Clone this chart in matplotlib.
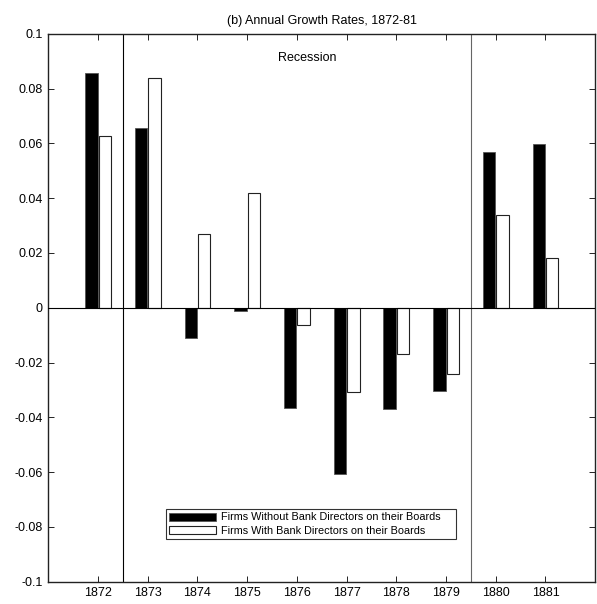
import matplotlib
matplotlib.use("Agg")
import matplotlib.pyplot as plt
import numpy as np

years = [1872, 1873, 1874, 1875, 1876, 1877, 1878, 1879, 1880, 1881]
without_bank = [0.0858, 0.0656, -0.0111, -0.0012, -0.0366, -0.0607, -0.0369, -0.0305, 0.0568, 0.0598]
with_bank = [0.0627, 0.0838, 0.0268, 0.0420, -0.0064, -0.0309, -0.0168, -0.0241, 0.0338, 0.0181]
yticks = [-0.1, -0.08, -0.06, -0.04, -0.02, 0, 0.02, 0.04, 0.06, 0.08, 0.1]
ytick_labels = ["-0.1", "-0.08", "-0.06", "-0.04", "-0.02", "0", "0.02", "0.04", "0.06", "0.08", "0.1"]
label_without = "Firms Without Bank Directors on their Boards"
label_with = "Firms With Bank Directors on their Boards"
title = "(b) Annual Growth Rates, 1872-81"

plt.rcParams['font.family'] = ['Liberation Sans', 'DejaVu Sans']

fig = plt.figure(figsize=(5.97, 6.04), dpi=100)
ax = fig.add_axes([0.081, 0.037, 0.916, 0.907])

x = np.array(years, dtype=float)
w = 0.25
ax.bar(x - 0.135, without_bank, width=w, color='black', edgecolor='#555555', linewidth=0.6,
       label=label_without, zorder=2)
ax.bar(x + 0.135, with_bank, width=w, color='white', edgecolor='#222222', linewidth=0.8,
       label=label_with, zorder=2)

ax.axhline(0, color='black', linewidth=0.8, zorder=3)
ax.axvline(1872.5, color='black', linewidth=0.8, zorder=1)
ax.axvline(1879.5, color='#666666', linewidth=0.8, zorder=1)

ax.set_xlim(1871, 1882)
ax.set_ylim(-0.1, 0.1)
ax.set_xticks(years)
ax.set_xticklabels([str(y) for y in years], fontsize=9)
ax.set_yticks(yticks)
ax.set_yticklabels(ytick_labels, fontsize=9)
ax.tick_params(direction='in', top=True, right=True, length=4, width=0.6, pad=4)
for s in ax.spines.values():
    s.set_linewidth(1.0)
    s.set_color('#222222')

ax.text(1876.2, 0.091, "Recession", fontsize=9, ha='center', va='center')
ax.set_title(title, fontsize=9, pad=7)

leg = ax.legend(loc='lower left', bbox_to_anchor=(0.215, 0.078, 0.531, 0.058), mode='expand',
                fontsize=7.8, frameon=True, fancybox=False, edgecolor='black',
                handlelength=4.35, handleheight=0.75, borderpad=0.3, labelspacing=0.3,
                handletextpad=0.45, borderaxespad=0)
leg.get_frame().set_linewidth(0.8)

fig.savefig("out.png", dpi=100)
